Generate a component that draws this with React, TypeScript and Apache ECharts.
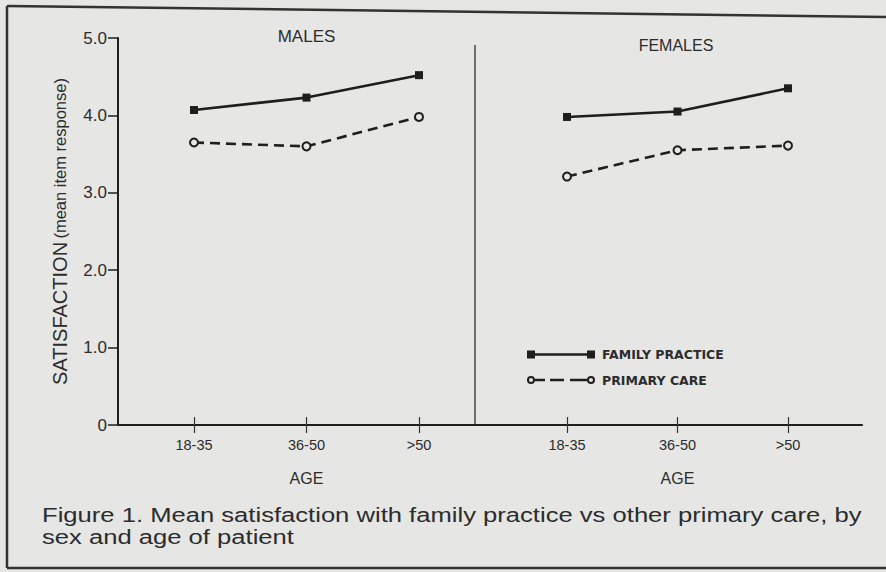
import React, { useEffect, useRef } from "react";
import * as echarts from "echarts";

const ageGroups = ["18-35", "36-50", ">50"];
const malesFamily = [4.07, 4.23, 4.52];
const malesPrimary = [3.65, 3.6, 3.98];
const femalesFamily = [3.98, 4.05, 4.35];
const femalesPrimary = [3.21, 3.55, 3.61];
const seriesNames = ["FAMILY PRACTICE", "PRIMARY CARE"];
const panelTitles = ["MALES", "FEMALES"];
const yAxisTitle = "SATISFACTION";
const yAxisSubtitle = "(mean item response)";
const xAxisTitle = "AGE";
const captionLines = [
  "Figure 1. Mean satisfaction with family practice vs other primary care, by",
  "sex and age of patient",
];

const BG = "#e6e6e4";
const INK = "#1e1e1e";
const TEXT = "#2c2c2c";
const SANS = "'Liberation Sans', Arial, Helvetica, sans-serif";

const fpIcon = "path://M0,0H8V8H0Z M8,2.7H60V5.3H8Z M60,0H68V8H60Z";
const pcIcon =
  "path://M0,4A4,4 0 1,1 8,4A4,4 0 1,1 0,4Z M2,4A2,2 0 1,0 6,4A2,2 0 1,0 2,4Z " +
  "M8,2.7H18V5.3H8Z M23,2.7H37V5.3H23Z M43,2.7H60V5.3H43Z " +
  "M60,4A4,4 0 1,1 68,4A4,4 0 1,1 60,4Z M62,4A2,2 0 1,0 66,4A2,2 0 1,0 62,4Z";

function catAxis(gridIndex: number) {
  return {
    type: "category",
    gridIndex,
    data: ageGroups,
    boundaryGap: true,
    offset: -8,
    axisLine: { show: false },
    axisTick: { show: true, alignWithLabel: true, length: 16, lineStyle: { color: "#333", width: 1.2 } },
    axisLabel: { margin: 20, fontFamily: SANS, fontSize: 14.5, color: TEXT },
    splitLine: { show: false },
    name: xAxisTitle,
    nameLocation: "middle",
    nameGap: 53,
    nameTextStyle: { fontFamily: SANS, fontSize: 16, color: TEXT },
  };
}

function fpSeries(xi: number, data: number[]) {
  return {
    type: "line",
    name: seriesNames[0],
    xAxisIndex: xi,
    yAxisIndex: xi,
    data,
    symbol: "rect",
    symbolSize: 8,
    itemStyle: { color: INK },
    lineStyle: { color: INK, width: 2.6 },
  };
}
function pcSeries(xi: number, data: number[]) {
  return {
    type: "line",
    name: seriesNames[1],
    xAxisIndex: xi,
    yAxisIndex: xi,
    data,
    symbol: "circle",
    symbolSize: 8,
    itemStyle: { color: BG, borderColor: INK, borderWidth: 2 },
    lineStyle: { color: INK, width: 2.6, type: [10, 6] },
  };
}

export default function App() {
  const ref = useRef<HTMLDivElement>(null);
  useEffect(() => {
    document.body.style.margin = "0";
    document.body.style.background = BG;
    const chart = echarts.init(ref.current!, null, { renderer: "svg" });
    const option: any = {
      animation: false,
      backgroundColor: BG,
      grid: [
        { left: 137.75, width: 337.5, top: 38, bottom: 147 },
        { left: 511.75, width: 331.5, top: 38, bottom: 147 },
        { left: 118, right: 24, top: 38, bottom: 147 },
      ],
      xAxis: [
        catAxis(0),
        catAxis(1),
        {
          type: "value",
          gridIndex: 2,
          min: 0,
          max: 1,
          axisLine: { show: true, lineStyle: { color: INK, width: 2.2 } },
          axisTick: { show: false },
          axisLabel: { show: false },
          splitLine: { show: false },
        },
      ],
      yAxis: [
        {
          type: "value",
          gridIndex: 0,
          min: 0,
          max: 5,
          interval: 1,
          offset: 19.75,
          axisLine: { show: true, lineStyle: { color: INK, width: 2 } },
          axisTick: { show: true, length: 10, lineStyle: { color: INK, width: 1.5 } },
          axisLabel: {
            margin: 11,
            fontFamily: SANS,
            fontSize: 17,
            color: TEXT,
            formatter: (v: number) => (v === 0 ? "0" : v.toFixed(1)),
          },
          splitLine: { show: false },
          name: "{a|" + yAxisTitle + "} {b|" + yAxisSubtitle + "}",
          nameLocation: "middle",
          nameRotate: 90,
          nameGap: 47,
          nameTextStyle: {
            color: TEXT,
            rich: {
              a: { fontFamily: SANS, fontSize: 20, color: TEXT, lineHeight: 22 },
              b: { fontFamily: SANS, fontSize: 16.5, color: TEXT, lineHeight: 22 },
            },
          },
        },
        { type: "value", gridIndex: 1, min: 0, max: 5, show: false },
        { type: "value", gridIndex: 2, min: 0, max: 5, show: false },
      ],
      legend: {
        orient: "vertical",
        left: 527,
        top: 348,
        padding: 0,
        itemWidth: 68,
        itemHeight: 8,
        itemGap: 12.5,
        itemStyle: { borderWidth: 0 },
        textStyle: {
          fontFamily: "'DejaVu Sans', sans-serif",
          fontSize: 12.5,
          fontWeight: "bold",
          color: TEXT,
          padding: [0, 0, 0, 2],
        },
        data: [
          { name: seriesNames[0], icon: fpIcon, itemStyle: { color: INK, borderWidth: 0 } },
          { name: seriesNames[1], icon: pcIcon, itemStyle: { color: INK, borderWidth: 0 } },
        ],
      },
      series: [
        fpSeries(0, malesFamily),
        pcSeries(0, malesPrimary),
        fpSeries(1, femalesFamily),
        pcSeries(1, femalesPrimary),
      ],
      graphic: [
        { type: "line", shape: { x1: 7, y1: 6, x2: 7, y2: 568 }, style: { stroke: "#333", lineWidth: 2.5 } },
        { type: "line", shape: { x1: 7, y1: 6, x2: 886, y2: 17 }, style: { stroke: "#333", lineWidth: 2.5 } },
        { type: "line", shape: { x1: 7, y1: 568, x2: 886, y2: 568 }, style: { stroke: "#333", lineWidth: 2.5 } },
        { type: "line", shape: { x1: 475, y1: 45, x2: 475, y2: 425 }, style: { stroke: "#444", lineWidth: 1.5 } },
        {
          type: "text",
          x: 306.5,
          y: 36,
          style: { text: panelTitles[0], fontFamily: SANS, fontSize: 17, fill: TEXT, textAlign: "center", textVerticalAlign: "middle" },
        },
        {
          type: "text",
          x: 676,
          y: 45,
          style: { text: panelTitles[1], fontFamily: SANS, fontSize: 16, fill: TEXT, textAlign: "center", textVerticalAlign: "middle" },
        },
        {
          type: "text",
          x: 42,
          y: 504,
          scaleX: 1.22,
          style: {
            text: captionLines.join("\n"),
            fontFamily: SANS,
            fontSize: 21,
            lineHeight: 22,
            fill: TEXT,
            textAlign: "left",
            textVerticalAlign: "top",
          },
        },
      ],
    };
    chart.setOption(option);
    return () => chart.dispose();
  }, []);
  return <div ref={ref} style={{ width: 886, height: 572, background: BG }} />;
}
